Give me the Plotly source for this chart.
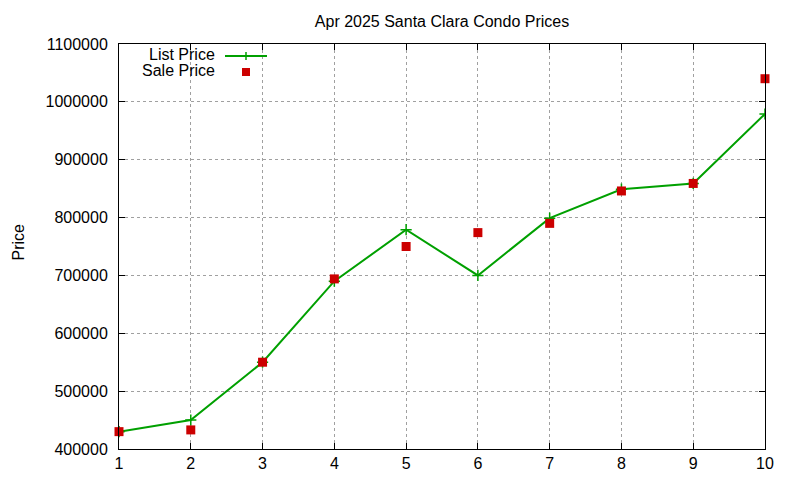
import plotly.graph_objects as go

# Apr 2025 Santa Clara condo prices
months = [1, 2, 3, 4, 5, 6, 7, 8, 9, 10]
list_price = [430000, 450000, 550000, 690000, 779000, 700000, 799000, 849000, 859000, 979000]
sale_price = [430000, 433000, 550000, 694000, 750000, 774000, 790000, 846000, 859000, 1040000]
y_ticks = [400000, 500000, 600000, 700000, 800000, 900000, 1000000, 1100000]

green = "#00a000"
red = "#cc0000"
font = "Liberation Sans, Arial, sans-serif"

# page body has an 8px margin, so the figure is a bit smaller than the window
OFF = 8
W, H = 800 - OFF, 480 - OFF
L, R, T, B = 119 - OFF, 35, 44 - OFF, 31
pw, ph = W - L - R, H - T - B


def px(x):
    # window pixel -> paper fraction
    return (x - OFF - L) / pw


def py(y):
    return (H - B - (y - OFF)) / ph


fig = go.Figure()
fig.add_trace(go.Scatter(x=months, y=list_price, mode="lines+markers", name="List Price",
                         line=dict(color=green, width=2),
                         marker=dict(symbol="cross-thin-open", size=8,
                                     line=dict(color=green, width=1.5))))
fig.add_trace(go.Scatter(x=months, y=sale_price, mode="markers", name="Sale Price",
                         marker=dict(symbol="square", size=9, color=red),
                         cliponaxis=False))

# gnuplot-style key: text on the left, sample on the right
for label, yy in [("List Price", 55), ("Sale Price", 71)]:
    fig.add_annotation(x=px(217), y=py(yy), xref="paper", yref="paper", text=label,
                       showarrow=False, xanchor="right", yanchor="middle",
                       font=dict(size=16, color="black", family=font))

fig.add_shape(type="line", xref="paper", yref="paper",
              x0=px(225), x1=px(267), y0=py(56), y1=py(56),
              line=dict(color=green, width=2))
fig.add_shape(type="line", xref="paper", yref="paper",
              x0=px(246), x1=px(246), y0=py(52), y1=py(60),
              line=dict(color=green, width=1.5))
fig.add_shape(type="rect", xref="paper", yref="paper",
              x0=px(242), x1=px(250), y0=py(68), y1=py(76),
              line=dict(width=0), fillcolor=red)

# y-axis label, kept inside the figure's left edge
fig.add_annotation(x=px(OFF), y=py(242), xref="paper", yref="paper", text="Price",
                   showarrow=False, textangle=-90, xanchor="left", yanchor="middle",
                   borderpad=0,
                   font=dict(size=16, color="black", family=font))

fig.update_layout(
    width=W, height=H,
    margin=dict(l=L, r=R, t=T, b=B, autoexpand=False),
    paper_bgcolor="white", plot_bgcolor="white",
    showlegend=False,
    font=dict(family=font, size=16, color="black"),
    title=dict(text="Apr 2025 Santa Clara Condo Prices", x=0.5, xanchor="center",
               xref="paper", y=1 - (21 - OFF) / H, yanchor="middle", font=dict(size=16)),
)
fig.update_xaxes(range=[1, 10], tickvals=months, showgrid=True,
                 gridcolor="#a0a0a0", griddash="dot", gridwidth=1,
                 showline=True, linecolor="black", linewidth=1, mirror="allticks",
                 ticks="inside", ticklen=6, tickcolor="black", zeroline=False,
                 automargin=False)
fig.update_yaxes(range=[400000, 1100000], tickvals=y_ticks, tickformat="d",
                 showgrid=True, gridcolor="#a0a0a0", griddash="dot", gridwidth=1,
                 showline=True, linecolor="black", linewidth=1, mirror="allticks",
                 ticks="inside", ticklen=6, tickcolor="black", zeroline=False,
                 ticklabelstandoff=7, automargin=False)

fig.write_html("out.html")
